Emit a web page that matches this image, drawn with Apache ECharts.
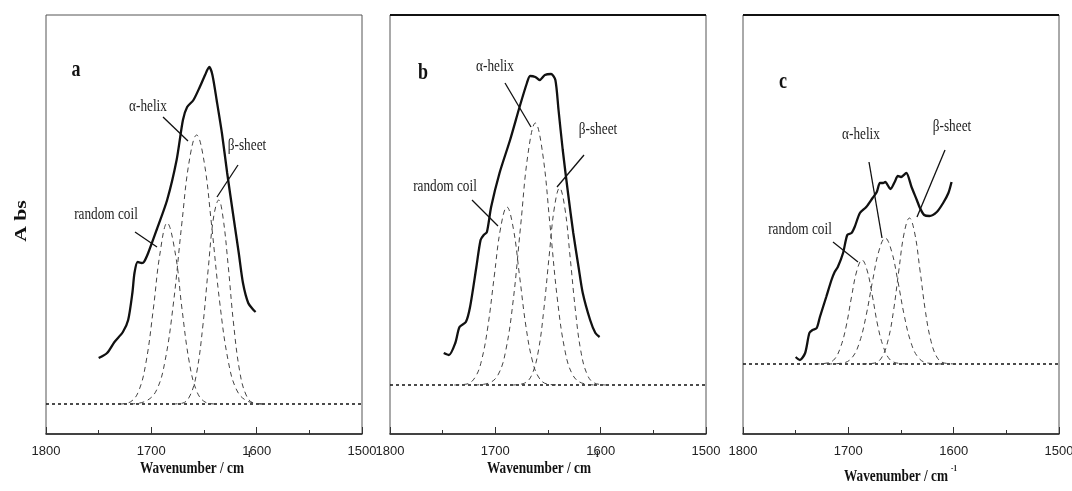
<!DOCTYPE html>
<html>
<head>
<meta charset="utf-8">
<script src="https://cdn.jsdelivr.net/npm/echarts@6/dist/echarts.min.js"></script>
<style>
html,body{margin:0;padding:0;background:#fff;}
#chart{width:1072px;height:491px;}
</style>
</head>
<body>
<div id="chart"></div>
<script>
// ---- data (wavenumber cm-1, absorbance in arbitrary units) ----
const panelLetters = ['a', 'b', 'c'];
const componentNames = ['random coil', 'α-helix', 'β-sheet'];
const xRange = [1500, 1800];

const specA = [[1750,76],[1742,81],[1735,92],[1727,102],[1722,114],[1718,141],[1716,161],[1713,172],[1709,171],[1707,172],[1703,181],[1695,204],[1685,234],[1676,274],[1670,314],[1666,327],[1660,334],[1654,347],[1649,359],[1645,367],[1642,359],[1638,334],[1633,301],[1628,261],[1622,217],[1617,181],[1613,151],[1608,131],[1603,124],[1601,122]];
const rcA = [[1730,30],[1720,32],[1712,43],[1705,72],[1698,126],[1692,179],[1685,211],[1677,179],[1671,126],[1664,72],[1657,43],[1649,32],[1639,30]];
const ahA = [[1720,30],[1705,33],[1695,44],[1687,73],[1679,131],[1671,211],[1664,273],[1657,299],[1650,273],[1643,211],[1635,131],[1627,73],[1619,44],[1609,33],[1594,30]];
const bsA = [[1680,30],[1670,31],[1663,39],[1657,61],[1651,109],[1646,165],[1641,216],[1636,234],[1632,217],[1627,168],[1622,111],[1616,62],[1610,39],[1603,31],[1593,30]];
const baseA = [[1800,30],[1500,30]];

const specB = [[1749,81],[1744,79],[1738,91],[1734,107],[1728,112],[1724,127],[1718,167],[1714,194],[1711,199],[1708,202],[1704,227],[1696,261],[1686,294],[1677,327],[1670,351],[1667,358],[1662,357],[1658,354],[1653,359],[1647,360],[1643,354],[1640,324],[1636,284],[1631,241],[1626,201],[1621,167],[1617,141],[1610,114],[1605,101],[1601,97]];
const rcB = [[1739,49],[1727,50],[1719,57],[1713,74],[1707,108],[1701,158],[1695,206],[1689,227],[1683,206],[1677,158],[1671,108],[1665,74],[1659,57],[1651,50],[1639,49]];
const ahB = [[1720,49],[1706,51],[1697,60],[1690,84],[1683,134],[1676,208],[1669,280],[1662,311],[1655,280],[1648,208],[1641,134],[1634,84],[1627,60],[1618,51],[1604,49]];
const bsB = [[1684,49],[1672,51],[1665,60],[1659,84],[1654,124],[1649,177],[1644,226],[1639,246],[1634,226],[1629,177],[1624,124],[1619,84],[1613,60],[1606,51],[1594,49]];
const baseB = [[1800,49],[1500,49]];

const specC = [[1750,77],[1746,74],[1741,81],[1737,101],[1734,104],[1730,106],[1727,117],[1721,137],[1716,154],[1713,162],[1710,167],[1705,181],[1701,199],[1697,201],[1694,207],[1689,221],[1683,227],[1677,236],[1673,242],[1670,251],[1667,251],[1665,252],[1660,245],[1656,252],[1653,258],[1650,257],[1645,261],[1640,247],[1635,234],[1632,226],[1628,219],[1623,218],[1616,222],[1610,231],[1605,241],[1602,252]];
const rcC = [[1732,70],[1720,71],[1713,75],[1707,88],[1702,108],[1697,137],[1692,163],[1687,174],[1682,163],[1677,137],[1672,108],[1667,88],[1661,75],[1654,71],[1642,70]];
const ahC = [[1720,70],[1705,71],[1696,77],[1689,93],[1683,119],[1677,153],[1671,183],[1665,196],[1659,183],[1653,153],[1647,119],[1641,93],[1634,77],[1625,71],[1610,70]];
const bsC = [[1687,70],[1675,71],[1668,77],[1662,95],[1657,124],[1652,164],[1647,201],[1642,216],[1637,201],[1632,164],[1627,124],[1622,95],[1616,77],[1609,71],[1597,70]];
const baseC = [[1800,70],[1500,70]];

const panels = [
  {spec: specA, comps: [rcA, ahA, bsA], base: baseA},
  {spec: specB, comps: [rcB, ahB, bsB], base: baseB},
  {spec: specC, comps: [rcC, ahC, bsC], base: baseC}
];

// ---- layout ----
const grids = [
  {left: 46, top: 15, width: 316, height: 419},
  {left: 390, top: 15, width: 316, height: 419},
  {left: 743, top: 15, width: 316, height: 419}
];

const serif = "'Liberation Serif','Times New Roman',serif";
const sans = "'Liberation Sans Narrow','Arial Narrow','Liberation Sans',Arial,sans-serif";

const option = {
  animation: false,
  backgroundColor: '#fff',
  grid: grids.map(g => Object.assign({show: true, borderColor: '#555', borderWidth: 1, containLabel: false, outerBoundsMode: 'none'}, g)),
  xAxis: grids.map((g, i) => ({
    gridIndex: i, type: 'value', inverse: true, min: xRange[0], max: xRange[1], interval: 100,
    axisLine: {show: true, onZero: false, lineStyle: {color: '#222', width: 1.5}},
    axisTick: {show: true, inside: true, length: 7, lineStyle: {color: '#333'}},
    minorTick: {show: true, splitNumber: 2, length: 4, lineStyle: {color: '#333'}},
    splitLine: {show: false},
    axisLabel: {fontFamily: sans, fontSize: 13, color: '#222', margin: 11, formatter: v => String(v)}
  })),
  yAxis: grids.map((g, i) => ({
    gridIndex: i, type: 'value', min: 0, max: 419,
    axisLine: {show: false}, axisTick: {show: false}, axisLabel: {show: false}, splitLine: {show: false}
  })),
  series: [],
  graphic: []
};

panels.forEach((p, i) => {
  option.series.push({
    type: 'line', xAxisIndex: i, yAxisIndex: i, data: p.base, symbol: 'none',
    lineStyle: {color: '#111', width: 1.3, type: [3, 3]}, z: 2
  });
  p.comps.forEach((c, k) => {
    option.series.push({
      name: componentNames[k], type: 'line', xAxisIndex: i, yAxisIndex: i, data: c, symbol: 'none',
      smooth: 0.4, lineStyle: {color: '#444', width: 1, type: [5, 4]}, z: 3
    });
  });
  option.series.push({
    type: 'line', xAxisIndex: i, yAxisIndex: i, data: p.spec, symbol: 'none', smooth: 0.25,
    lineStyle: {color: '#111', width: 2.3}, z: 4
  });
});

// ---- annotations ----
function txt(x, y, text, size, opts) {
  opts = opts || {};
  return {
    type: 'text', x: x, y: y, scaleX: opts.sx || 0.78, scaleY: opts.sy || 1, rotation: opts.rot || 0, z: 10,
    style: {
      text: text, x: 0, y: 0, fill: opts.color || '#222',
      font: (opts.bold ? 'bold ' : '') + size + 'px ' + (opts.family || serif),
      align: 'center', verticalAlign: 'middle', textAlign: 'center', textVerticalAlign: 'middle'
    }
  };
}
function seg(x1, y1, x2, y2, w) {
  return {type: 'line', z: 10, shape: {x1: x1, y1: y1, x2: x2, y2: y2}, style: {stroke: '#111', lineWidth: w || 1.3}};
}

const labelPos = [
  {letter: [76, 70], rc: [106, 215], ah: [148, 107], bs: [247, 146],
   rcL: [135, 232, 157, 247], ahL: [163, 117, 188, 141], bsL: [238, 165, 217, 197],
   title: [192, 469], sup: [248, 455]},
  {letter: [423, 73], rc: [445, 187], ah: [495, 67], bs: [598, 130],
   rcL: [472, 200, 498, 226], ahL: [505, 83, 531, 127], bsL: [584, 155, 557, 187],
   title: [539, 469], sup: [596, 455]},
  {letter: [783, 82], rc: [800, 230], ah: [861, 135], bs: [952, 127],
   rcL: [833, 242, 858, 262], ahL: [869, 162, 882, 238], bsL: [945, 150, 917, 217],
   title: [896, 477], sup: [954, 469]}
];

labelPos.forEach((L, i) => {
  option.graphic.push(txt(L.letter[0], L.letter[1], panelLetters[i], 24, {bold: true, sx: 0.75, color: '#111'}));
  option.graphic.push(txt(L.rc[0], L.rc[1], componentNames[0], 17));
  option.graphic.push(txt(L.ah[0], L.ah[1], componentNames[1], 17));
  option.graphic.push(txt(L.bs[0], L.bs[1], componentNames[2], 17));
  option.graphic.push(seg.apply(null, L.rcL));
  option.graphic.push(seg.apply(null, L.ahL));
  option.graphic.push(seg.apply(null, L.bsL));
  option.graphic.push(txt(L.title[0], L.title[1], 'Wavenumber / cm', 17, {bold: true, color: '#111'}));
  option.graphic.push(txt(L.sup[0], L.sup[1], '-1', 9, {bold: true, color: '#111'}));
});
// darker top frame on panels b and c
option.graphic.push(seg(390, 15, 706, 15, 2));
option.graphic.push(seg(743, 15, 1059, 15, 2));
option.graphic.push(txt(22, 221, 'A bs', 16, {bold: true, sx: 1.35, rot: Math.PI / 2, color: '#111'}));

const chart = echarts.init(document.getElementById('chart'), null, {renderer: 'canvas'});
chart.setOption(option);
</script>
</body>
</html>
